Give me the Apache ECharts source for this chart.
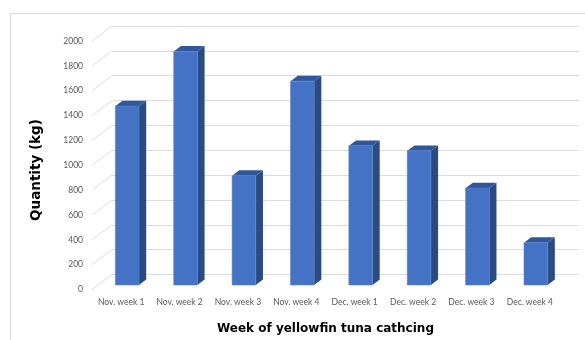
<!DOCTYPE html>
<html>
<head>
<meta charset="utf-8">
<script src="https://cdn.jsdelivr.net/npm/echarts@6/dist/echarts.min.js"></script>
<style>
  html, body { margin: 0; padding: 0; background: #fff; }
  #chart { width: 585px; height: 340px; }
</style>
</head>
<body>
<div id="chart"></div>
<script>
// Weekly yellowfin tuna catch (kg)
const categories = ['Nov. week 1', 'Nov. week 2', 'Nov. week 3', 'Nov. week 4',
                    'Dec. week 1', 'Dec. week 2', 'Dec. week 3', 'Dec. week 4'];
const catchKg = [1440, 1880, 880, 1640, 1120, 1080, 780, 340];
const yTicks = [0, 200, 400, 600, 800, 1000, 1200, 1400, 1600, 1800, 2000];

// Depth of the 3D box (back wall offset from the front plane), in px
const WALL_DX = 20, WALL_DY = -15;
const BAR_FRONT = 0.3;   // bar front face position within the depth
const BAR_DEPTH = 0.36;  // bar depth as a share of the wall depth
const BAR_WIDTH = 0.405; // front face width as a share of the category band

const chart = echarts.init(document.getElementById('chart'), null, { renderer: 'canvas' });

function renderBar(params, api) {
  const i = api.value(0);
  const v = api.value(1);
  const top = api.coord([i, v]);
  const base = api.coord([i, 0]);
  const band = api.size([1, 0])[0];
  const w = band * BAR_WIDTH;
  const fx = BAR_FRONT * WALL_DX, fy = BAR_FRONT * WALL_DY;
  const dx = BAR_DEPTH * WALL_DX, dy = BAR_DEPTH * WALL_DY;
  const x0 = top[0] - w / 2 + fx, x1 = x0 + w;
  const yt = top[1] + fy, yb = base[1] + fy;
  return {
    type: 'group',
    children: [
      { type: 'polygon', shape: { points: [[x1, yt], [x1 + dx, yt + dy], [x1 + dx, yb + dy], [x1, yb]] },
        style: { fill: '#2B4A80' } },
      { type: 'polygon', shape: { points: [[x0, yt], [x0 + dx, yt + dy], [x1 + dx, yt + dy], [x1, yt]] },
        style: { fill: '#30569C' } },
      { type: 'rect', shape: { x: x0, y: yt, width: w, height: yb - yt },
        style: { fill: '#4472C4', stroke: '#5A85D0', lineWidth: 0.6 } }
    ]
  };
}

function renderWallEdge(params, api) {
  const v = api.value(0);
  const p = api.coord([0, v]);
  const band = api.size([1, 0])[0];
  const x = p[0] - band / 2;
  return {
    type: 'line',
    shape: { x1: x, y1: p[1], x2: x + WALL_DX, y2: p[1] + WALL_DY },
    style: { stroke: '#DCDCDC', lineWidth: 1 },
    silent: true
  };
}

const option = {
  animation: false,
  backgroundColor: '#ffffff',
  textStyle: { fontFamily: 'Lato' },
  graphic: [
    { type: 'rect', shape: { x: 10.5, y: 13.5, width: 620, height: 400 },
      style: { fill: 'none', stroke: '#D9D9D9', lineWidth: 1 }, z: -10 },
    { type: 'text', x: 36, y: 170, rotation: Math.PI / 2,
      style: { text: 'Quantity (kg)', font: 'bold 13.5px "DejaVu Sans"', fill: '#000',
               align: 'center', verticalAlign: 'middle' } }
  ],
  grid: [
    // front plane of the box: carries the labels and the bars
    { left: 92, top: 41, width: 467, height: 248.5 },
    // back wall: carries the gridlines
    { left: 92 + WALL_DX, top: 41 + WALL_DY, width: 467, height: 248.5 }
  ],
  xAxis: [
    { type: 'category', gridIndex: 0, data: categories,
      axisLine: { show: false }, axisTick: { show: false },
      axisLabel: { color: '#595959', fontSize: 8.5, margin: 8, interval: 0 },
      name: 'Week of yellowfin tuna cathcing', nameLocation: 'middle', nameGap: 33,
      nameTextStyle: { color: '#000', fontSize: 12, fontWeight: 'bold', fontFamily: 'DejaVu Sans' } },
    { type: 'category', gridIndex: 1, data: categories, show: false }
  ],
  yAxis: [
    { type: 'value', gridIndex: 0, min: 0, max: 2000, interval: 200,
      axisLine: { show: false }, axisTick: { show: false }, splitLine: { show: false },
      axisLabel: { color: '#595959', fontSize: 8.5, margin: 9, formatter: v => String(v) } },
    { type: 'value', gridIndex: 1, min: 0, max: 2000, interval: 200,
      axisLine: { show: false }, axisTick: { show: false }, axisLabel: { show: false },
      splitLine: { show: true, lineStyle: { color: '#DCDCDC', width: 1 } } }
  ],
  series: [
    { type: 'custom', name: 'wall', xAxisIndex: 0, yAxisIndex: 0,
      data: yTicks.map(v => [v]), encode: { y: 0 },
      renderItem: renderWallEdge, z: 1, silent: true },
    { type: 'custom', name: 'Quantity', xAxisIndex: 0, yAxisIndex: 0,
      data: catchKg.map((v, i) => [i, v]), encode: { x: 0, y: 1 },
      renderItem: renderBar, z: 5 }
  ]
};

chart.setOption(option);
</script>
</body>
</html>
